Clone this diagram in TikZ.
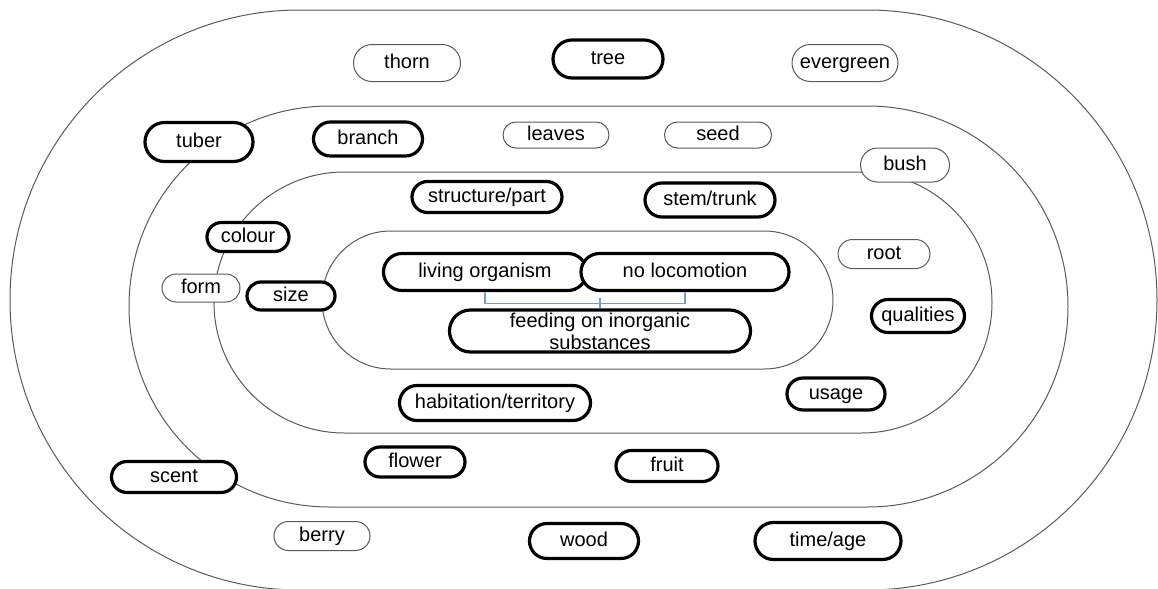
\documentclass[tikz,border=0pt]{standalone}
\usepackage{fontspec}
\setmainfont{Liberation Sans}
\definecolor{bracketblue}{RGB}{112,158,212}
\definecolor{ringgray}{RGB}{90,90,90}

\begin{document}
\begin{tikzpicture}[x=0.5pt,y=-0.5pt,
    font=\fontsize{10pt}{11pt}\selectfont,
    pill/.style 2 args={rectangle, fill=white, inner sep=0pt, align=center,
      text height=7.2pt, text depth=2.1pt,
      minimum width=#1, minimum height=#2, rounded corners=#2/2},
    boldterm/.style={draw=black, line width=1.6pt},
    plainterm/.style={draw=ringgray, line width=0.5pt},
    ring/.style={draw=ringgray, line width=0.5pt},
    bracket/.style={draw=bracketblue, line width=0.6pt}]
    \useasboundingbox (0,0) rectangle (1158,589);
    \clip (0,0) rectangle (1158,589);

    % vier Ringe, von innen nach aussen
    \draw[ring, rounded corners=34.4pt] (322,231) rectangle (833,369);
    \draw[ring, rounded corners=65.2pt] (214,172) rectangle (992,433);
    \draw[ring, rounded corners=100.2pt] (129,106) rectangle (1068,507);
    \draw[ring, rounded corners=144.9pt] (10,10) rectangle (1157,590);

    % duenn umrandete Begriffe
    \node[plainterm, pill={53.5pt}{18.5pt}] (thorn) at (407,63) {thorn};
    \node[plainterm, pill={53pt}{18.5pt}] (evergreen) at (845,63) {evergreen};
    \node[plainterm, pill={53pt}{13pt}] (leaves) at (556,135) {leaves};
    \node[plainterm, pill={53.5pt}{13pt}] (seed) at (718,135) {seed};
    \node[plainterm, pill={44.5pt}{17pt}] (bush) at (905,165) {bush};
    \node[plainterm, pill={46pt}{14.5pt}] (root) at (884,254) {root};
    \node[plainterm, pill={39pt}{14pt}] (form) at (201,288) {form};
    \node[plainterm, pill={48pt}{14.5pt}] (berry) at (322,536) {berry};

    % dick umrandete Begriffe
    \node[boldterm, pill={55pt}{19pt}] (tree) at (608,59) {tree};
    \node[boldterm, pill={54pt}{19.5pt}] (tuber) at (199,142) {tuber};
    \node[boldterm, pill={54.5pt}{17pt}] (branch) at (368,139) {branch};
    \node[boldterm, pill={75pt}{15.5pt}] (structure) at (487,197) {structure/part};
    \node[boldterm, pill={65pt}{17pt}] (stem) at (710,200) {stem/trunk};
    \node[boldterm, pill={41pt}{14.5pt}] (colour) at (248,237) {colour};
    \node[boldterm, pill={44pt}{14pt}] (size) at (291,296) {size};
    \node[boldterm, pill={46.5pt}{16.5pt}] (qualities) at (918,316) {qualities};
    \node[boldterm, pill={49pt}{16pt}] (usage) at (836,394) {usage};
    \node[boldterm, pill={95.5pt}{17.5pt}] (habitation) at (495,403) {habitation/territory};
    \node[boldterm, pill={50pt}{15pt}] (flower) at (415,462) {flower};
    \node[boldterm, pill={51pt}{15.5pt}] (fruit) at (667,466) {fruit};
    \node[boldterm, pill={62.5pt}{15.5pt}] (scent) at (174,477) {scent};
    \node[boldterm, pill={54.5pt}{17.5pt}] (wood) at (584,541) {wood};
    \node[boldterm, pill={73pt}{18.5pt}] (timeage) at (828,541) {time/age};

    % Kern
    \node[boldterm, pill={101.5pt}{18.5pt}] (living) at (485,272) {living organism};
    \node[boldterm, pill={104pt}{18.5pt}] (nolocomotion) at (685,272) {no locomotion};
    \node[boldterm, pill={150.5pt}{21pt}, text height=, text depth=] (feeding) at (600,331) {feeding on inorganic\\substances};

    % Klammer
    \draw[bracket] (living.south) -- ++(0,11) -| (nolocomotion.south);
    \draw[bracket] (feeding.north) -- ++(0,-10);

\end{tikzpicture}
\end{document}
